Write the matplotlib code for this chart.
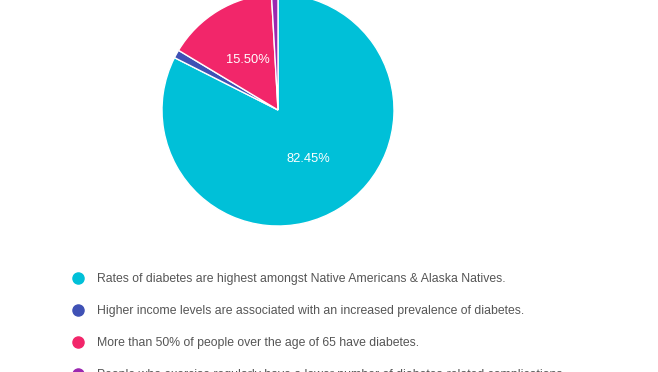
import matplotlib
matplotlib.use('Agg')
import matplotlib.pyplot as plt
from matplotlib.lines import Line2D

plt.rcParams['font.family'] = ['Liberation Sans', 'DejaVu Sans']

labels = [
    "Rates of diabetes are highest amongst Native Americans & Alaska Natives.",
    "Higher income levels are associated with an increased prevalence of diabetes.",
    "More than 50% of people over the age of 65 have diabetes.",
    "People who exercise regularly have a lower number of diabetes-related complications.",
]
values = [82.45, 1.15, 15.50, 0.90]
colors = ['#00C0D8', '#3F51B5', '#F2266A', '#9C27B0']

W, H = 658, 372
fig = plt.figure(figsize=(W / 100, H / 100), dpi=100)

# pie centre (278,110) px, radius ~116 px
cx, cy, r = 278, 110, 116
ax = fig.add_axes([(cx - r) / W, 1 - (cy + r) / H, 2 * r / W, 2 * r / H])
ax.axis('off')

def fmt(p):
    return f"{p:.2f}%" if p > 5 else ""

wedges, texts, autotexts = ax.pie(values, colors=colors, startangle=90, counterclock=False,
                                  radius=1, autopct=fmt, pctdistance=0.5,
                                  wedgeprops=dict(edgecolor='white', linewidth=1),
                                  textprops=dict(color='white', fontsize=9.3))
ax.set_xlim(-1, 1)
ax.set_ylim(-1, 1)

# legend rows
for i, (lab, col) in enumerate(zip(labels, colors)):
    y = 1 - (278 + 32 * i) / H
    fig.add_artist(Line2D([78 / W], [y], marker='o', markersize=8, color=col,
                          linestyle='none', transform=fig.transFigure))
    fig.text(97 / W, y - 1 / H, lab, fontsize=8.8, color='#555555', va='center')

fig.savefig('out.png', dpi=100)
